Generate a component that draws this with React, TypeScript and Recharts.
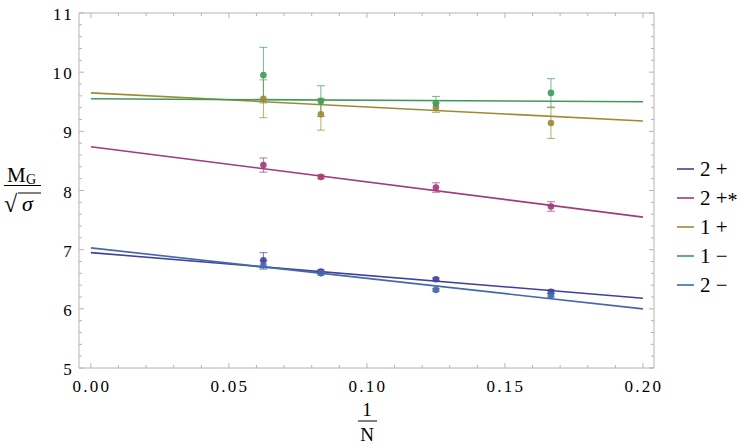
import React from 'react';
import { ComposedChart, Scatter, XAxis, YAxis, ErrorBar, Legend } from 'recharts';

// 1/N for N = 16, 12, 8, 6
const invN = [0.0625, 0.08333, 0.125, 0.16667];

const seriesNames = ['2 +', '2 +', '1 +', '1 \u2212', '2 \u2212'];
const seriesSuffix = ['', '*', '', '', ''];
const seriesColors = ['#41409b', '#a03c78', '#9e8a32', '#3d9b5a', '#4467ad'];

// measured points and their errors
const y2plus = [6.82, 6.63, 6.5, 6.29];
const e2plus = [0.13, 0.03, 0.02, 0.03];
const y2plusStar = [8.43, 8.23, 8.05, 7.73];
const e2plusStar = [0.12, 0.03, 0.08, 0.08];
const y1plus = [9.55, 9.29, 9.4, 9.14];
const e1plus = [0.32, 0.27, 0.08, 0.26];
const y1minus = [9.95, 9.51, 9.47, 9.65];
const e1minus = [0.47, 0.26, 0.12, 0.24];
const y2minus = [6.74, 6.6, 6.32, 6.23];
const e2minus = [0.07, 0.03, 0.02, 0.03];

// fitted lines, values at 1/N = 0 and 1/N = 0.2
const fitX = [0, 0.2];
const fit2plus = [6.95, 6.18];
const fit2plusStar = [8.74, 7.55];
const fit1plus = [9.65, 9.175];
const fit1minus = [9.55, 9.5];
const fit2minus = [7.03, 6.0];

const xMajorTicks = [0, 0.05, 0.1, 0.15, 0.2];
const xTickLabels = ['0.00', '0.05', '0.10', '0.15', '0.20'];
const xAllTicks = [0, 0.01, 0.02, 0.03, 0.04, 0.05, 0.06, 0.07, 0.08, 0.09, 0.1, 0.11, 0.12, 0.13, 0.14, 0.15, 0.16, 0.17, 0.18, 0.19, 0.2];
const yMajorTicks = [5, 6, 7, 8, 9, 10, 11];
const yTickLabels = ['5', '6', '7', '8', '9', '10', '11'];
const yAllTicks = [5, 5.2, 5.4, 5.6, 5.8, 6, 6.2, 6.4, 6.6, 6.8, 7, 7.2, 7.4, 7.6, 7.8, 8, 8.2, 8.4, 8.6, 8.8, 9, 9.2, 9.4, 9.6, 9.8, 10, 10.2, 10.4, 10.6, 10.8, 11];

const pointSets = [
  { y: y2plus, e: e2plus },
  { y: y2plusStar, e: e2plusStar },
  { y: y1plus, e: e1plus },
  { y: y1minus, e: e1minus },
  { y: y2minus, e: e2minus },
];
const fitSets = [fit2plus, fit2plusStar, fit1plus, fit1minus, fit2minus];

const pointData = pointSets.map((s) => invN.map((x, i) => ({ x, y: s.y[i], e: s.e[i] })));
const fitData = fitSets.map((f) => fitX.map((x, i) => ({ x, y: f[i] })));

const FRAME = '#b4b4b4';
const serifStyle = { fontFamily: "'Liberation Serif', Tinos, 'Times New Roman', serif" };

const findIdx = (arr: number[], v: number) => arr.findIndex((t) => Math.abs(t - v) < 1e-9);

const BottomTick = (props: any) => {
  const { x, y, payload } = props;
  const idx = findIdx(xMajorTicks, payload.value);
  const major = idx >= 0;
  return (
    <g>
      <line x1={x} x2={x} y1={y} y2={y - (major ? 5 : 3)} stroke={FRAME} />
      {major && (
        <text x={x + 1} y={y + 24} textAnchor="middle" style={serifStyle} fontSize={17} letterSpacing={2.3} fill="#000">
          {xTickLabels[idx]}
        </text>
      )}
    </g>
  );
};

const TopTick = (props: any) => {
  const { x, y, payload } = props;
  const major = findIdx(xMajorTicks, payload.value) >= 0;
  return <line x1={x} x2={x} y1={y} y2={y + (major ? 5 : 3)} stroke={FRAME} />;
};

const LeftTick = (props: any) => {
  const { x, y, payload } = props;
  const idx = findIdx(yMajorTicks, payload.value);
  const major = idx >= 0;
  return (
    <g>
      <line x1={x} x2={x + (major ? 5 : 3)} y1={y} y2={y} stroke={FRAME} />
      {major && (
        <text x={x - 5} y={y + 7} textAnchor="end" style={serifStyle} fontSize={17} letterSpacing={2.3} fill="#000">
          {yTickLabels[idx]}
        </text>
      )}
    </g>
  );
};

const RightTick = (props: any) => {
  const { x, y, payload } = props;
  const major = findIdx(yMajorTicks, payload.value) >= 0;
  return <line x1={x} x2={x - (major ? 5 : 3)} y1={y} y2={y} stroke={FRAME} />;
};

const YTitle = () => (
  <g fill="#000">
    <text x={7} y={182} fontSize={21} style={serifStyle}>M</text>
    <text x={26} y={184} fontSize={14} style={serifStyle}>G</text>
    <line x1={4} x2={41} y1={185.5} y2={185.5} stroke="#000" strokeWidth={1} />
    <text x={4} y={212} fontSize={24} style={serifStyle}>{'\u221A'}</text>
    <line x1={18} x2={41} y1={193} y2={193} stroke="#000" strokeWidth={1} />
    <text x={22} y={211} fontSize={22} fontStyle="italic" style={serifStyle}>{'\u03C3'}</text>
  </g>
);

const XTitle = () => (
  <g fill="#000">
    <text x={367} y={416} fontSize={19} textAnchor="middle" style={serifStyle}>1</text>
    <line x1={358} x2={377} y1={421} y2={421} stroke="#000" strokeWidth={1} />
    <text x={367} y={441} fontSize={19} textAnchor="middle" style={serifStyle}>N</text>
  </g>
);

const LegendContent = () => (
  <svg width={72} height={150} style={{ overflow: 'visible' }}>
    {seriesNames.map((name, i) => (
      <g key={i}>
        <line x1={2} x2={19} y1={14 + i * 29} y2={14 + i * 29} stroke={seriesColors[i]} strokeWidth={1.6} />
        <text x={25} y={21 + i * 29} style={serifStyle} fontSize={21} fill="#000">
          {name}
          {seriesSuffix[i] && <tspan fontSize={20} dy={2}>{seriesSuffix[i]}</tspan>}
        </text>
      </g>
    ))}
  </svg>
);

const makeDot = (color: string) => (p: any) => (
  <circle cx={p.cx} cy={p.cy} r={3.3} fill={color} fillOpacity={0.9} />
);
const noDot = () => <g />;

export default function App() {
  return (
    <div style={{ position: 'absolute', left: 0, top: 0 }}>
      <ComposedChart width={747} height={446} margin={{ top: 12, right: 92, bottom: 0, left: 0 }}>
        <XAxis
          xAxisId="b"
          dataKey="x"
          type="number"
          domain={[-0.0043, 0.204]}
          allowDataOverflow
          ticks={xAllTicks}
          interval={0}
          tick={<BottomTick />}
          tickLine={false}
          tickSize={0}
          tickMargin={0}
          axisLine={{ stroke: FRAME }}
          height={78}
          label={<XTitle />}
        />
        <XAxis
          xAxisId="t"
          orientation="top"
          dataKey="x"
          type="number"
          domain={[-0.0043, 0.204]}
          allowDataOverflow
          ticks={xAllTicks}
          interval={0}
          tick={<TopTick />}
          tickLine={false}
          tickSize={0}
          tickMargin={0}
          axisLine={{ stroke: FRAME }}
          height={1}
        />
        <YAxis
          yAxisId="l"
          dataKey="y"
          type="number"
          domain={[5, 11]}
          allowDataOverflow
          ticks={yAllTicks}
          interval={0}
          tick={<LeftTick />}
          tickLine={false}
          tickSize={0}
          tickMargin={0}
          axisLine={{ stroke: FRAME }}
          width={79}
          label={<YTitle />}
        />
        <YAxis
          yAxisId="r"
          orientation="right"
          dataKey="y"
          type="number"
          domain={[5, 11]}
          allowDataOverflow
          ticks={yAllTicks}
          interval={0}
          tick={<RightTick />}
          tickLine={false}
          tickSize={0}
          tickMargin={0}
          axisLine={{ stroke: FRAME }}
          width={1}
        />
        <Scatter
          name="frame"
          xAxisId="t"
          yAxisId="r"
          data={fitData[0]}
          shape={noDot}
          legendType="none"
          isAnimationActive={false}
        />
        {fitData.map((d, i) => (
          <Scatter
            key={'fit' + i}
            name={'fit' + i}
            xAxisId="b"
            yAxisId="l"
            data={d}
            line={{ stroke: seriesColors[i], strokeWidth: 1.6 }}
            shape={noDot}
            legendType="none"
            isAnimationActive={false}
          />
        ))}
        {pointData.map((d, i) => (
          <Scatter
            key={'pts' + i}
            name={seriesNames[i] + seriesSuffix[i]}
            xAxisId="b"
            yAxisId="l"
            data={d}
            shape={makeDot(seriesColors[i])}
            isAnimationActive={false}
          >
            <ErrorBar dataKey="e" direction="y" width={4} stroke={seriesColors[i]} strokeOpacity={0.7} strokeWidth={1} />
          </Scatter>
        ))}
        <Legend
          layout="horizontal"
          verticalAlign="middle"
          align="center"
          width={72}
          content={<LegendContent />}
          wrapperStyle={{ left: 675, top: 155, width: 72, height: 150 }}
        />
      </ComposedChart>
    </div>
  );
}
